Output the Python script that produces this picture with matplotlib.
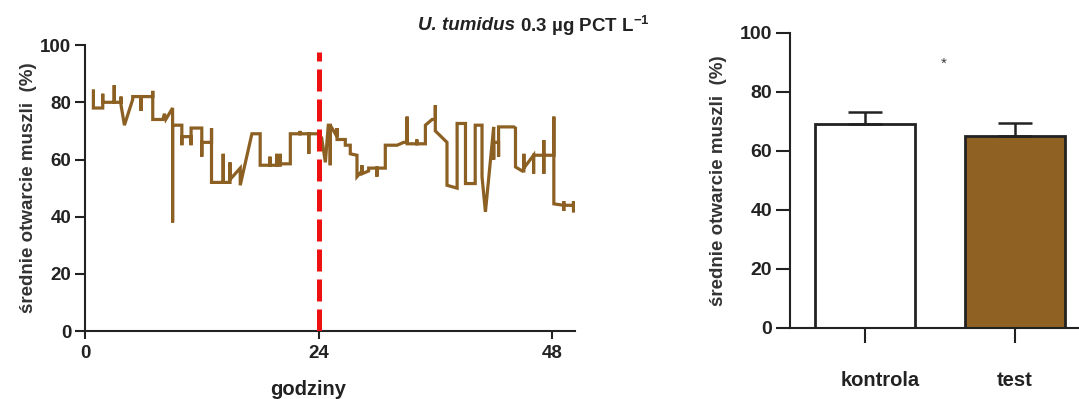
import matplotlib
matplotlib.use("Agg")
import matplotlib.pyplot as plt
from matplotlib.transforms import offset_copy

plt.rcParams["font.family"] = ["Liberation Sans", "DejaVu Sans"]
plt.rcParams["mathtext.fontset"] = "custom"
plt.rcParams["mathtext.rm"] = "Liberation Sans"
plt.rcParams["mathtext.bf"] = "Liberation Sans:bold"

# zapis otwarcia muszli w czasie (godziny, %)
hours = [0.86, 0.86, 1.82, 1.82, 1.82, 3.0, 3.0, 3.0, 3.7, 3.7, 3.7, 4.05, 4.9, 4.9,
         5.76, 5.76, 5.76, 6.96, 6.96, 6.96, 8.0, 8.16, 8.3, 9.0, 9.0, 9.0,
         9.95, 9.95, 9.95, 10.9, 10.9, 10.9, 12.0, 12.0, 12.0, 13.0, 13.0, 13.0,
         14.2, 14.2, 14.2, 14.9, 14.9, 14.9, 15.95, 15.95, 17.15, 18.0, 18.0,
         19.0, 19.0, 19.0, 19.7, 19.7, 19.7,
         20.06, 20.06, 20.06, 21.1, 21.1, 22.1, 22.1, 22.1, 23.0, 23.0, 23.0,
         24.0, 24.0, 24.3, 24.7, 25.0, 25.2, 25.2, 25.2, 25.9, 25.9, 25.9,
         26.75, 26.75, 27.26, 27.26, 27.95, 27.95, 28.46, 28.46, 28.46, 29.15,
         29.15, 29.66,
         30.0, 30.0, 30.0, 30.86, 30.86, 32.07, 32.75, 33.1, 33.1, 33.1, 34.1,
         34.1, 34.1, 34.98, 34.98, 35.67, 36.0, 36.0, 36.0, 37.2, 37.2, 38.24,
         38.24, 39.1, 39.1, 40.1, 40.1, 40.8, 40.8, 41.15, 42.0, 42.0, 42.0,
         42.5, 42.5, 42.5, 44.07, 44.24, 44.24, 44.93, 45.1, 45.1, 45.1, 46.1,
         46.1, 46.1, 47.15, 47.15, 47.15, 47.15, 48.18, 48.18, 48.18, 49.2,
         49.2, 49.2, 49.2, 50.2, 50.2, 50.2]
opening = [84, 78, 78, 83, 80, 80, 86, 80, 80, 82, 79, 72, 81, 82,
           82, 77, 82, 82, 84, 74, 74, 76, 74, 78, 38, 72,
           72, 65, 68, 68, 65, 71, 71, 61, 66, 66, 71, 52,
           52, 62, 52, 52, 59, 53, 57, 51, 69, 69, 58,
           58, 61, 58, 58, 62, 58,
           58, 62, 58.5, 58.5, 69, 69, 70, 69, 69, 62, 69,
           69, 64, 68, 59, 72, 72, 58, 72, 68, 71, 67,
           67, 65, 65, 62, 61.5, 54, 56, 58, 55, 56,
           57, 57,
           57, 54, 57, 57, 65, 65, 66, 66, 75, 65.5, 65.5,
           67, 65.5, 65.5, 72, 74, 74, 79, 70, 66, 51, 50,
           72.6, 72.6, 51.6, 51.6, 72, 72, 54, 41.7, 71.4, 60, 66,
           66, 61, 71.4, 71.4, 71, 57.4, 56, 56, 62, 57, 61.5,
           55, 61.5, 61.5, 66.8, 55, 61.5, 61.5, 75, 44.5, 44,
           45.5, 42, 44, 44, 45.5, 42]
exposure_start = 24

# srednie dla grup
groups = ["kontrola", "test"]
means = [69, 65]
errors = [4, 4.5]

brown = "#8c6023"
ink = "#222222"

fig = plt.figure(figsize=(10.79, 3.99), dpi=100)

# --- wykres czasowy ---
ax1 = fig.add_axes([0.0788, 0.170, 0.4545, 0.717])
ax1.plot(hours, opening, color=brown, lw=2.3, solid_joinstyle="miter", zorder=2)
ax1.vlines(exposure_start, 0, 97.5, color="#ee1111", lw=3.6,
           linestyles=(0, (4.4, 1.6)), zorder=3)
ax1.set_xlim(0, 50.4)
ax1.set_ylim(0, 100)
ax1.set_xticks([0, 24, 48])
ax1.set_yticks(range(0, 101, 20))
for s in ["top", "right"]:
    ax1.spines[s].set_visible(False)
for s in ["left", "bottom"]:
    ax1.spines[s].set_linewidth(1.5)
    ax1.spines[s].set_color(ink)
ax1.tick_params(axis="y", length=7, width=1.5, pad=3, labelsize=13.5, colors=ink)
ax1.tick_params(axis="x", length=6, width=1.5, pad=4, labelsize=13.5, colors=ink)
for lab in ax1.get_xticklabels() + ax1.get_yticklabels():
    lab.set_fontweight("bold")
ax1.set_ylabel("średnie otwarcie muszli  (%)", fontsize=13.5, fontweight="bold",
               color="#333333")
ax1.yaxis.set_label_coords(-0.098, 0.5)
ax1.set_xlabel("godziny", fontsize=14.5, fontweight="bold", color=ink)
ax1.xaxis.set_label_coords(0.455, -0.17)

t1 = fig.text(0.3874, 0.937, "U. tumidus", fontsize=13.5, fontweight="bold",
              style="italic", color=ink, va="center")
ax1.annotate(r" 0.3 µg PCT L$^{\mathbf{-1}}$", xy=(1, 0.5), xycoords=t1,
             va="center", fontsize=13.5, fontweight="bold", color=ink)

# --- wykres slupkowy ---
ax2 = fig.add_axes([0.7322, 0.178, 0.2678, 0.74])
ax2.bar(range(len(groups)), means, width=0.67, color=["white", "#8f6122"],
        edgecolor=ink, linewidth=2.0, zorder=2)
ax2.errorbar(range(len(groups)), means, yerr=[[0, 0], errors], fmt="none",
             ecolor=ink, elinewidth=1.8, capsize=12, capthick=1.8, zorder=3)
ax2.text(0.527, 89.5, "*", ha="center", va="center", fontsize=11, color="#3a3a3a")
ax2.set_xlim(-0.5, 1.427)
ax2.set_ylim(0, 100)
ax2.set_xticks(range(len(groups)))
ax2.set_xticklabels(groups)
ax2.set_yticks(range(0, 101, 20))
for s in ["top", "right"]:
    ax2.spines[s].set_visible(False)
for s in ["left", "bottom"]:
    ax2.spines[s].set_linewidth(1.5)
    ax2.spines[s].set_color(ink)
ax2.tick_params(axis="y", length=10, width=1.5, pad=3, labelsize=14, colors=ink)
ax2.tick_params(axis="x", length=11, width=1.5, pad=20, labelsize=14.5, colors=ink)
for lab in ax2.get_xticklabels() + ax2.get_yticklabels():
    lab.set_fontweight("bold")
# podpis "kontrola" lekko przesuniety w prawo
kontrola = ax2.get_xticklabels()[0]
kontrola.set_transform(offset_copy(kontrola.get_transform(), fig=fig, x=15, units="dots"))
ax2.set_ylabel("średnie otwarcie muszli  (%)", fontsize=13.5, fontweight="bold",
               color="#333333")
ax2.yaxis.set_label_coords(-0.218, 0.5)

fig.savefig("out.png", dpi=100)
